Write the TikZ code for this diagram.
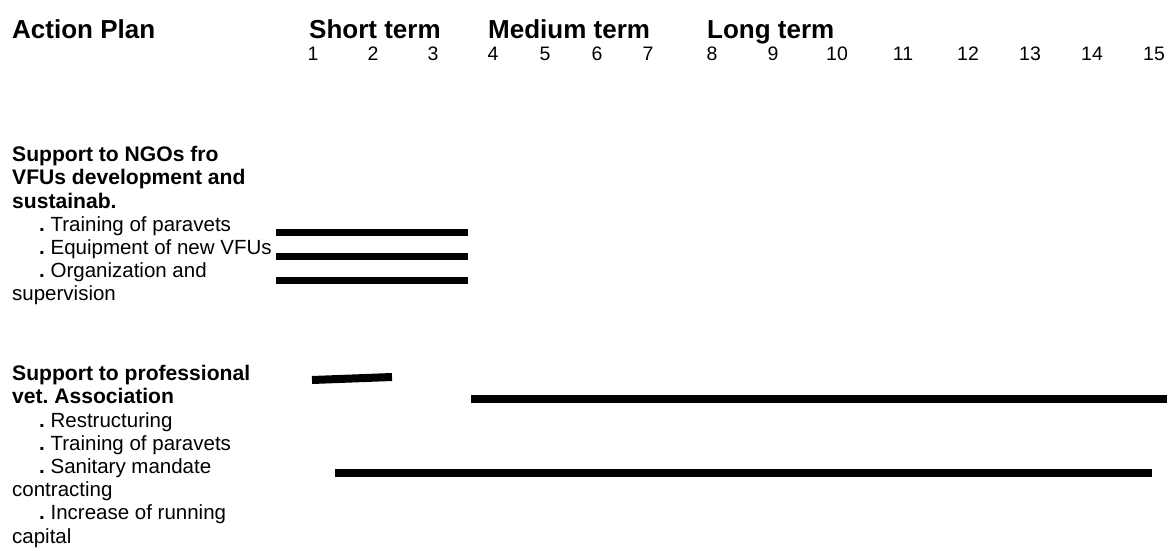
\documentclass[tikz,border=0pt]{standalone}
\usepackage{fontspec}
\setmainfont{Liberation Sans}
\frenchspacing
\begin{document}
\begin{tikzpicture}[x=1pt,y=-1pt,
  head/.style={font=\fontsize{26}{30}\selectfont\bfseries, anchor=base west, inner sep=0pt},
  num/.style={font=\fontsize{19.5}{22}\selectfont, anchor=base, inner sep=0pt},
  grp/.style={font=\fontsize{21.1}{23.2}\selectfont\bfseries, anchor=base west, inner sep=0pt},
  item/.style={font=\fontsize{20.5}{23.2}\selectfont, anchor=base west, inner sep=0pt},
  bar/.style={line width=7.5pt, line cap=butt},
  thickbar/.style={line width=8pt, line cap=butt}]
\useasboundingbox (0,0) rectangle (1169,551);

% header row
\node[head] (title)  at (12,38)  {Action Plan};
\node[head] (short)  at (309,38) {Short term};
\node[head] (medium) at (488,38) {Medium term};
\node[head] (long)   at (707,38) {Long term};

% year numbers
\foreach \n/\x in {1/313,2/373,3/433,4/493,5/545,6/597,7/648,8/712,
                   9/773,10/837,11/903,12/968,13/1030,14/1092,15/1154}
  \node[num] (y\n) at (\x,60) {\n};

% first group of activities
\node[grp]  (g1a) at (12,161.7) {Support to NGOs fro};
\node[grp]  (g1b) at (12,184.9) {VFUs development and};
\node[grp]  (g1c) at (12,208.1) {sustainab.};
\node[item] (i1a) at (39,231.3) {\textbf{.} Training of paravets};
\node[item] (i1b) at (39,254.5) {\textbf{.} Equipment of new VFUs};
\node[item] (i1c) at (39,277.7) {\textbf{.} Organization and};
\node[item] (i1d) at (12,300.9) {supervision};

% second group of activities
\node[grp]  (g2a) at (12,380.7) {Support to professional};
\node[grp]  (g2b) at (12,403.9) {vet. Association};
\node[item] (i2a) at (39,427.1) {\textbf{.} Restructuring};
\node[item] (i2b) at (39,450.3) {\textbf{.} Training of paravets};
\node[item] (i2c) at (39,473.5) {\textbf{.} Sanitary mandate};
\node[item] (i2d) at (12,496.7) {contracting};
\node[item] (i2e) at (39,519.9) {\textbf{.} Increase of running};
\node[item] (i2f) at (12,543.1) {capital};

% bar end points
\coordinate (a1s) at (276,232.5);  \coordinate (a1e) at (468,232.5);
\coordinate (a2s) at (276,256.5);  \coordinate (a2e) at (468,256.5);
\coordinate (a3s) at (276,280.5);  \coordinate (a3e) at (468,280.5);
\coordinate (b1s) at (312,380);    \coordinate (b1e) at (392,377);
\coordinate (b2s) at (471,399);    \coordinate (b2e) at (1167,399);
\coordinate (b3s) at (335,473);    \coordinate (b3e) at (1152,473);

% timeline bars
\draw[bar] (a1s) -- (a1e);
\draw[bar] (a2s) -- (a2e);
\draw[bar] (a3s) -- (a3e);
\draw[thickbar] (b1s) -- (b1e);
\draw[thickbar] (b2s) -- (b2e);
\draw[thickbar] (b3s) -- (b3e);
\end{tikzpicture}
\end{document}
